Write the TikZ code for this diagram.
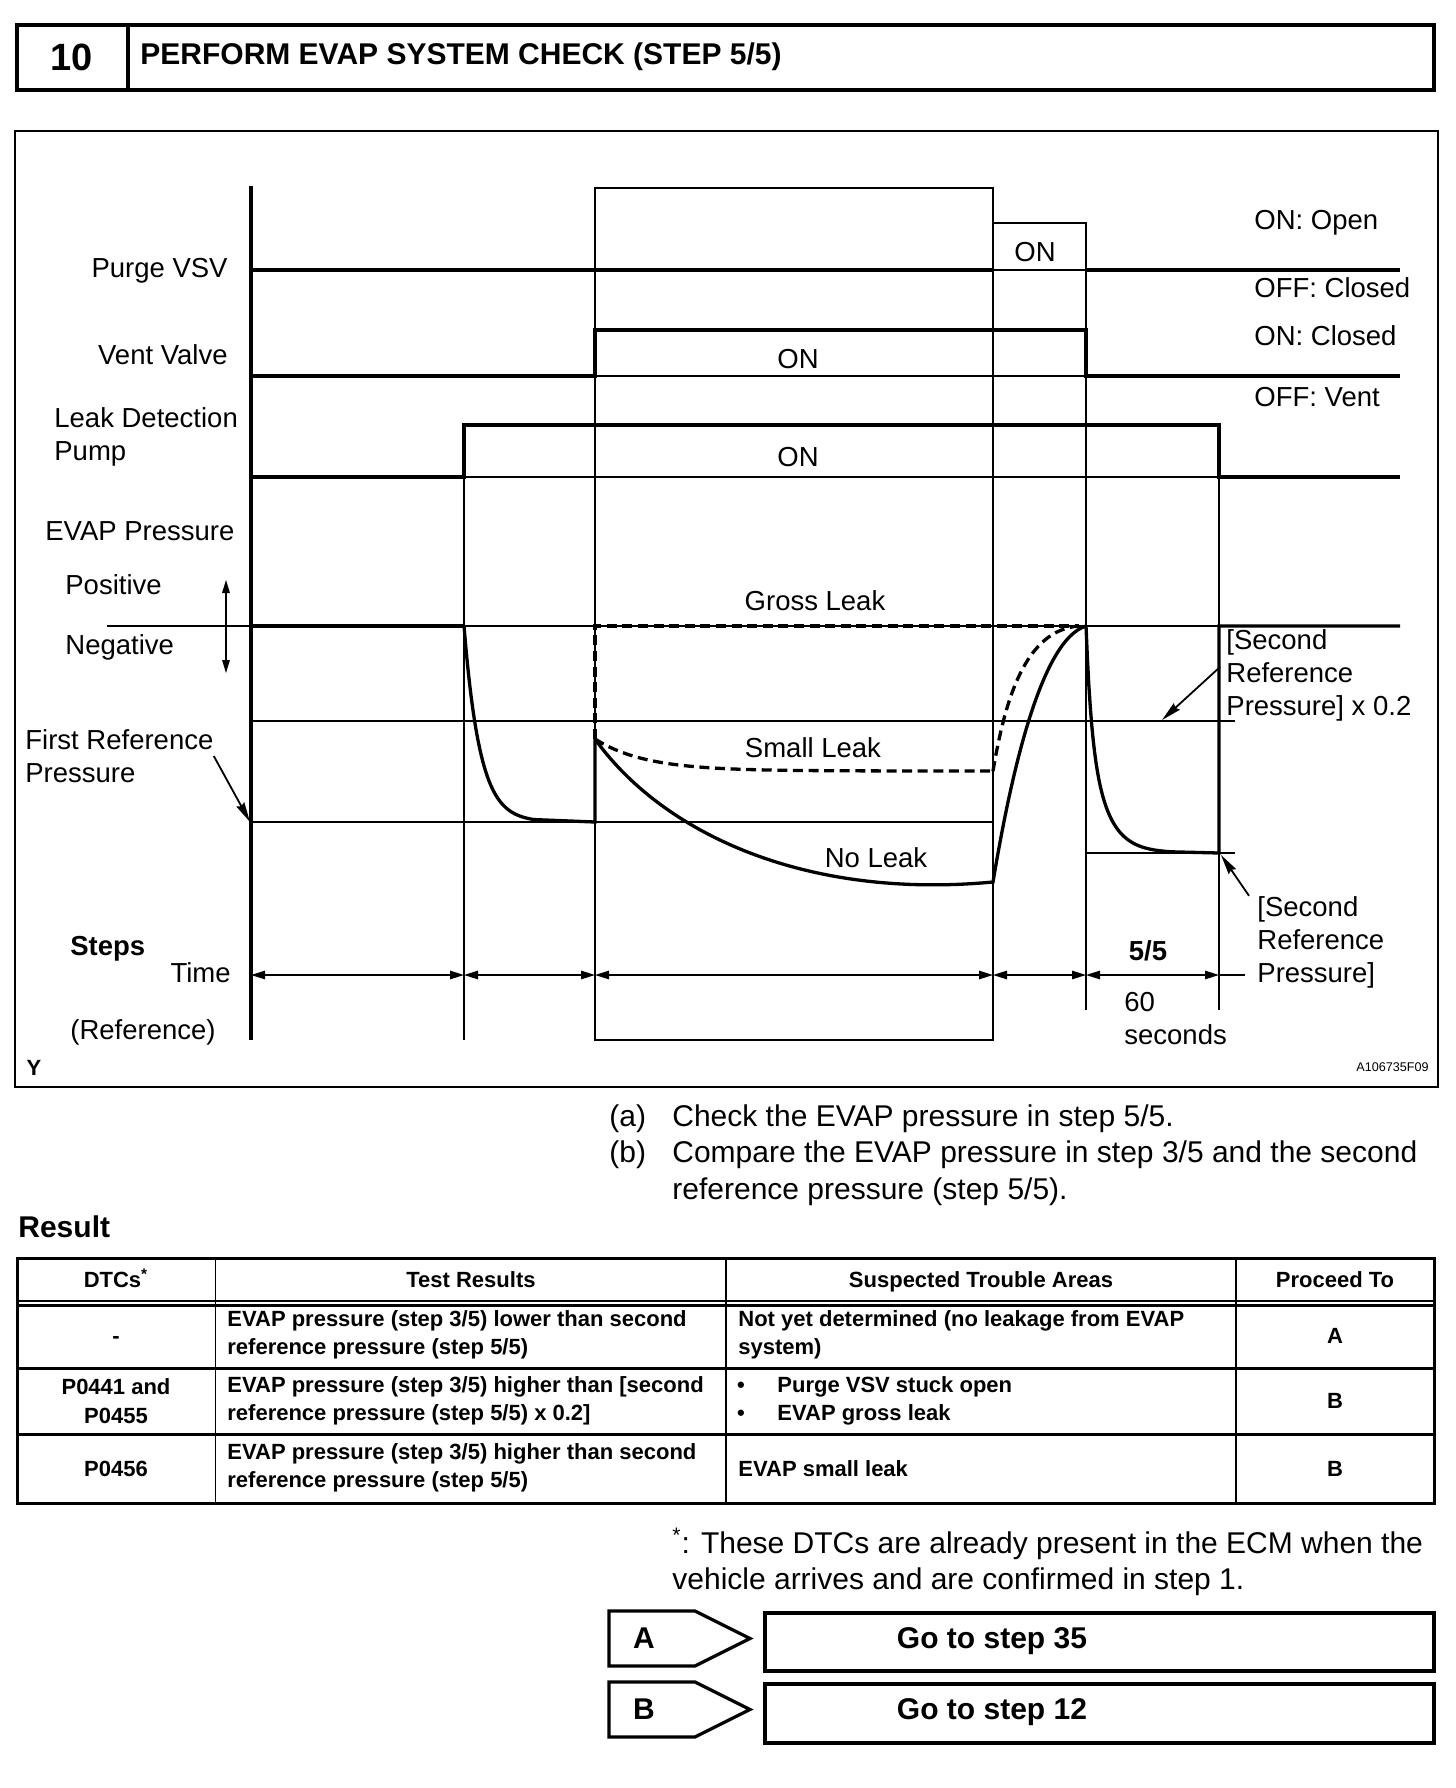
\documentclass[tikz,border=0pt]{standalone}
\usepackage{fontspec}
\setmainfont{Liberation Sans}
\usetikzlibrary{arrows.meta, positioning, calc}

\newcommand{\lblsize}{\fontsize{13.75}{16.5}\selectfont}
\newcommand{\tabsize}{\fontsize{11}{14.25}\selectfont\bfseries}
\newcommand{\txtsize}{\fontsize{15}{18.25}\selectfont}

\tikzset{
  sig/.style={line width=1.65pt},
  gridln/.style={line width=0.65pt},
  pulse/.style={line width=1.1pt},
  leak/.style={line width=1.65pt, dash pattern=on 5pt off 2.8pt},
  diagframe/.style={line width=1.1pt},
  hdrbox/.style={line width=1.8pt},
  tabline/.style={line width=1.5pt},
  tabsep/.style={line width=0.75pt},
  lbl/.style={font=\lblsize, inner sep=0pt, text height=9.8pt, text depth=0pt},
  mlbl/.style={font=\lblsize, inner sep=0pt, align=left},
  annot/.style={line width=0.9pt, -{Stealth[length=10pt,width=4.4pt,inset=1pt]}},
  timearr/.style={line width=0.8pt, {Triangle[length=7pt,width=4.2pt]}-{Triangle[length=7pt,width=4.2pt]}},
  tabtxt/.style={font=\tabsize, inner sep=0pt, align=left},
  tabone/.style={font=\tabsize, inner sep=0pt, text height=7.9pt, text depth=0pt},
  txt/.style={font=\txtsize, inner sep=0pt, align=left},
  gobox/.style={line width=2pt},
  pent/.style={line width=1.6pt, line join=miter},
}

\begin{document}
\begin{tikzpicture}[x=0.5pt, y=-0.5pt]
\useasboundingbox (0,0) rectangle (1456,1788);

% header
\draw[hdrbox] (17,25) rectangle (1434,90);
\draw[hdrbox] (128,25) -- (128,90);
\node[font=\bfseries\fontsize{19}{21}\selectfont, inner sep=0pt] (stepno) at (72,57) {10};
\node[font=\bfseries\fontsize{15}{18}\selectfont, inner sep=0pt, anchor=west] (title) at (140,57) {PERFORM EVAP SYSTEM CHECK (STEP 5/5)};

% diagram frame
\draw[diagframe] (15,131) rectangle (1438,1087);

% vertical step lines
\draw[gridln] (595,188) rectangle (993,1040);
\draw[gridln] (464,477) -- (464,1040);
\draw[gridln] (1086,270) -- (1086,1010);
\draw[gridln] (1219,477) -- (1219,1010);

% Purge VSV
\draw[sig] (251,270) -- (993,270);
\draw[gridln] (993,270) -- (1086,270);
\draw[pulse] (993,270) -- (993,223) -- (1086,223) -- (1086,270);
\draw[sig] (1086,270) -- (1400,270);

% Vent Valve
\draw[gridln] (595,376) -- (1086,376);
\draw[sig] (251,376) -- (595,376) -- (595,330) -- (1086,330) -- (1086,376) -- (1400,376);

% Leak Detection Pump
\draw[gridln] (464,477) -- (1219,477);
\draw[sig] (251,477) -- (464,477) -- (464,425) -- (1219,425) -- (1219,477) -- (1400,477);

% pressure levels
\draw[gridln] (107,626) -- (1400,626);
\draw[gridln] (251,721) -- (1235,721);
\draw[gridln] (251,822) -- (993,822);
\draw[gridln] (1086,853) -- (1235,853);

% EVAP pressure
\draw[sig] (251,626) -- (464,626);
\draw[sig] plot[domain=0:70, samples=50] ({464+\x},{822-196*exp(-\x/16)}) -- (595,822) -- (595,739);
\draw[sig] (595,739) .. controls (660,830) and (800,900) .. (993,882)
  .. controls (1010,780) and (1040,640) .. (1086,626);
\draw[sig] plot[domain=0:85, samples=60] ({1086+\x},{853-227*(0.4*exp(-\x/5)+0.6*exp(-\x/18))}) -- (1219,853) -- (1219,626) -- (1400,626);
\draw[leak] (595,739) -- (595,626) -- (1079,626);
\draw[leak] plot[domain=0:398, samples=60] ({595+\x},{771-32*exp(-\x/50)});
\draw[leak] (993,771) .. controls (1005,700) and (1025,630) .. (1079,626);

% y axis
\draw[sig] (251,186) -- (251,1040);

% positive / negative
\coordinate (posend) at (226,580);
\coordinate (negend) at (226,673);
\draw[line width=0.6pt, {Triangle[length=6.5pt,width=3.8pt]}-{Triangle[length=6.5pt,width=3.8pt]}] (posend) -- (negend);

% time axis
\coordinate (t0) at (251,975);
\coordinate (t1) at (464,975);
\coordinate (t2) at (595,975);
\coordinate (t3) at (993,975);
\coordinate (t4) at (1086,975);
\coordinate (t5) at (1219,975);
\coordinate (tend) at (1245,975);
\foreach \a/\b in {t0/t1, t1/t2, t2/t3, t3/t4, t4/t5}
  \draw[timearr] (\a) -- (\b);
\draw[line width=0.8pt] (t5) -- (tend);

% signal names
\node[lbl, anchor=east] (purge) at (228,268) {Purge VSV};
\node[lbl, anchor=east] (vent) at (228,355) {Vent Valve};
\node[mlbl, anchor=west] (pump) at (54,437) {Leak Detection\\Pump};
\node[lbl, anchor=west] (evap) at (45,531) {EVAP Pressure};
\node[lbl, anchor=west] (positive) at (65,585) {Positive};
\node[lbl, anchor=west] (negative) at (65,645) {Negative};
\node[mlbl, anchor=west] (fref) at (25,756) {First Reference\\Pressure};
\node[lbl, anchor=west, font=\lblsize\bfseries] (steps) at (70,946) {Steps};
\node[lbl, anchor=east] (time) at (231,973) {Time};
\node[lbl, anchor=west] (refnote) at (70,1030) {(Reference)};
\node[font=\bfseries\fontsize{11}{12}\selectfont, inner sep=0pt] (ymark) at (34,1068) {Y};
\node[font=\fontsize{6.3}{7}\selectfont, inner sep=0pt, anchor=east] (figno) at (1429,1067) {A106735F09};

% states
\node[lbl, anchor=west] (onopen) at (1254,220) {ON: Open};
\node[lbl, anchor=west] (offclosed) at (1254,288) {OFF: Closed};
\node[lbl, anchor=west] (onclosed) at (1254,336) {ON: Closed};
\node[lbl, anchor=west] (offvent) at (1254,397) {OFF: Vent};
\node[lbl] (purgeon) at (1035,252) {ON};
\node[lbl] (venton) at (798,359) {ON};
\node[lbl] (pumpon) at (798,457) {ON};

% leak curves
\node[lbl] (gross) at (815,601) {Gross Leak};
\node[lbl] (small) at (813,748) {Small Leak};
\node[lbl] (noleak) at (876,858) {No Leak};

% reference pressures
\node[mlbl, anchor=west] (sref02) at (1226,675) {[Second\\Reference\\Pressure] x 0.2};
\node[mlbl, anchor=west] (sref) at (1257,942) {[Second\\Reference\\Pressure]};
\node[lbl, font=\lblsize\bfseries] (stepfive) at (1148,951) {5/5};
\node[mlbl, anchor=west] (sixty) at (1124,1019) {60\\seconds};

\coordinate (frefpt) at (250,822);
\coordinate (sref02pt) at (1162,720);
\coordinate (srefpt) at (1221,855);
\draw[annot] (fref.east) -- (frefpt);
\draw[annot] ([shift={(-3pt,4pt)}]sref02.west) -- (sref02pt);
\draw[annot] ([xshift=-4pt]sref.north west) -- (srefpt);

% instructions
\node[txt, anchor=west] (itema) at (609,1119) {(a)};
\node[txt, anchor=west] (texta) at (672,1119) {Check the EVAP pressure in step 5/5.};
\node[txt, anchor=west] (itemb) at (609,1155) {(b)};
\node[txt, anchor=west] (textb) at (672,1173) {Compare the EVAP pressure in step 3/5 and the second\\reference pressure (step 5/5).};
\node[txt, anchor=west, font=\txtsize\bfseries] (result) at (18,1227) {Result};

% result table
\draw[tabline] (17,1258) rectangle (1434,1503);
\foreach \x in {215.5,726,1236}
  \draw[tabsep] (\x,1258) -- (\x,1503);
\draw[tabsep] (17,1301) -- (1434,1301);
\draw[tabline] (17,1305) -- (1434,1305);
\foreach \y in {1368,1434.5}
  \draw[tabline] (17,\y) -- (1434,\y);

\node[tabone] (hdtc) at (116,1280) {DTCs\textsuperscript{*}};
\node[tabone] (hres) at (471,1280) {Test Results};
\node[tabone] (hare) at (981,1280) {Suspected Trouble Areas};
\node[tabone] (hgo) at (1335,1280) {Proceed To};

\node[tabone] (dtca) at (116,1336) {-};
\node[tabtxt, anchor=west] (resa) at (227,1335) {EVAP pressure (step 3/5) lower than second\\reference pressure (step 5/5)};
\node[tabtxt, anchor=west] (area) at (738,1335) {Not yet determined (no leakage from EVAP\\system)};
\node[tabone] (goa) at (1335,1336) {A};

\node[tabtxt, align=center] (dtcb) at (116,1401) {P0441 and\\P0455};
\node[tabtxt, anchor=west] (resb) at (227,1401) {EVAP pressure (step 3/5) higher than [second\\reference pressure (step 5/5) x 0.2]};
\node[tabtxt] (bula) at (741,1387) {•};
\node[tabtxt] (bulb) at (741,1415) {•};
\node[tabtxt, anchor=west] (areb) at (777,1401) {Purge VSV stuck open\\EVAP gross leak};
\node[tabone] (gob) at (1335,1401) {B};

\node[tabone] (dtcc) at (116,1469) {P0456};
\node[tabtxt, anchor=west] (resc) at (227,1468) {EVAP pressure (step 3/5) higher than second\\reference pressure (step 5/5)};
\node[tabone, anchor=west] (arec) at (738,1469) {EVAP small leak};
\node[tabone] (goc) at (1335,1469) {B};

% footnote
\node[txt, anchor=west] (foot) at (672,1562) {\textsuperscript{*}: These DTCs are already present in the ECM when the\\vehicle arrives and are confirmed in step 1.};

% branches
\draw[pent] (609,1611) -- (695,1611) -- (750,1638.5) -- (695,1666) -- (609,1666) -- cycle;
\draw[gobox] (765,1613) rectangle (1434,1671);
\node[txt, font=\txtsize\bfseries] (brA) at (644,1638) {A};
\node[txt, font=\txtsize\bfseries] (goA) at (992,1641) {Go to step 35};
\draw[pent] (609,1682) -- (695,1682) -- (750,1709.5) -- (695,1737) -- (609,1737) -- cycle;
\draw[gobox] (765,1684) rectangle (1434,1743);
\node[txt, font=\txtsize\bfseries] (brB) at (644,1709) {B};
\node[txt, font=\txtsize\bfseries] (goB) at (992,1712) {Go to step 12};
\end{tikzpicture}
\end{document}
